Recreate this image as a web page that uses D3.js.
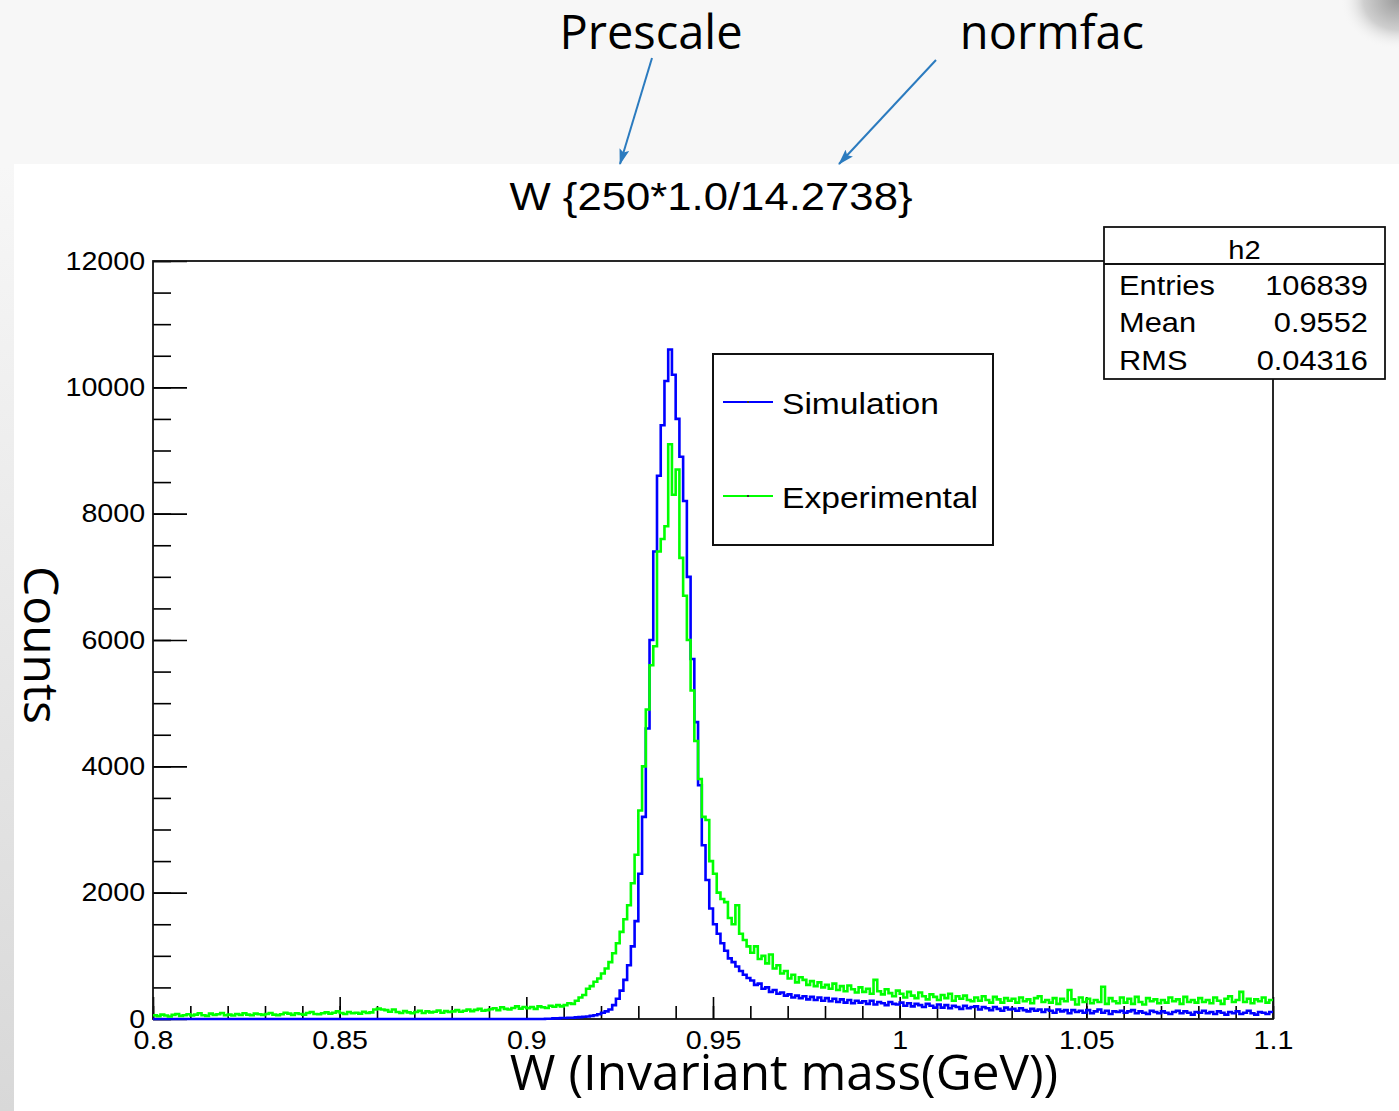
<!DOCTYPE html>
<html><head><meta charset="utf-8">
<script src="https://cdn.jsdelivr.net/npm/d3@7"></script>
<style>body{margin:0;background:#fff;} svg{display:block}</style>
</head><body><svg id="c" width="1399" height="1111"></svg>
<script>
// ---------------- DATA ----------------
const binLow = 0.8, binWidth = 0.001;          // 300 bins, 0.8 .. 1.1 GeV
const simulation = [
  0,0,0,0,0,0,0,0,0,0,
  0,0,0,0,0,0,0,0,0,0,
  0,0,0,0,0,0,0,0,0,0,
  0,0,0,0,0,0,0,0,0,0,
  0,0,0,0,0,0,0,0,0,0,
  0,0,0,0,0,0,0,0,0,0,
  0,0,0,0,0,0,0,0,0,0,
  0,0,0,0,0,0,0,0,0,0,
  0,0,0,0,0,0,0,0,0,0,
  0,0,0,0,0,0,0,0,0,0,
  0,0,0,0,0,5,5,10,10,15,
  15,20,20,25,30,35,40,50,60,75,
  100,120,150,220,320,450,620,850,1150,1550,
  2300,3200,4600,6000,7400,8600,9400,10100,10600,10200,
  9500,8900,8200,7000,5700,4700,3700,2750,2200,1750,
  1500,1350,1200,1080,960,900,830,760,700,650,
  610,540,560,480,500,430,460,400,420,370,
  390,340,370,330,360,310,350,300,340,290,
  330,280,320,270,310,260,300,250,290,260,
  280,240,290,230,270,250,220,270,240,230,
  260,210,250,200,240,220,190,240,210,180,
  230,180,220,170,210,190,160,210,170,190,
  200,150,190,170,140,190,160,130,180,150,
  160,130,170,140,120,160,130,150,110,150,
  130,100,150,120,140,90,140,110,130,100,
  140,90,120,150,100,130,80,120,110,130,
  100,120,140,90,120,100,80,130,110,90,
  120,100,80,110,130,90,120,100,70,110,
  100,130,90,110,80,120,100,70,110,90,
  120,80,100,130,90,70,110,100,80,110
];
const experimental = [
  60,45,70,55,40,65,80,50,60,75,
  55,70,90,60,50,85,65,75,95,60,
  70,55,80,65,90,70,60,85,75,65,
  80,95,70,60,75,100,85,65,90,80,
  70,95,110,80,75,90,105,85,100,120,
  95,80,110,90,100,85,115,95,105,150,
  165,150,140,115,150,110,95,125,105,90,
  110,130,95,120,105,115,135,100,125,110,
  120,140,115,130,150,125,145,160,130,140,
  155,170,140,185,160,150,175,200,165,190,
  170,190,160,200,185,175,210,195,220,200,
  220,250,240,290,340,380,480,520,590,640,
  720,800,900,1040,1200,1380,1580,1800,2150,2600,
  3300,4000,4900,5600,5900,7400,7600,7800,9100,8300,
  8700,7300,6700,6000,5200,4400,3800,3200,3150,2500,
  2300,2000,1900,1850,1600,1500,1800,1350,1250,1150,
  1050,1150,950,1000,880,1020,800,850,720,760,
  640,700,580,660,620,540,600,520,580,500,
  540,480,560,460,520,440,530,470,420,500,
  430,480,400,620,440,390,470,410,360,450,
  400,340,430,370,330,420,360,310,390,350,
  300,380,330,400,290,360,320,370,300,280,
  340,290,360,300,260,350,310,260,330,290,
  320,260,340,280,310,250,330,360,270,300,
  260,330,240,320,280,460,310,230,340,270,
  320,250,300,270,510,240,330,280,250,340,
  260,320,240,350,270,230,330,280,310,250,
  300,260,340,280,310,240,350,270,300,260,
  330,270,300,250,340,290,240,320,360,270,
  300,430,270,320,250,310,280,340,260,300
];
const xDomain = [0.8, 1.1];
const yDomain = [0, 12000];
const xTickValues = [0.8, 0.85, 0.9, 0.95, 1.0, 1.05, 1.1];
const xTickLabels = ["0.8", "0.85", "0.9", "0.95", "1", "1.05", "1.1"];
const xMinorStep = 0.01;
const yTickValues = [0, 2000, 4000, 6000, 8000, 10000, 12000];
const yTickLabels = ["0", "2000", "4000", "6000", "8000", "10000", "12000"];
const yMinorStep = 500;
const legendLabels = ["Simulation", "Experimental"];
const seriesColors = ["#0000ff", "#00ff00"];
const statsTitle = "h2";
const statsNames = ["Entries", "Mean", "RMS"];
const statsValues = ["106839", "0.9552", "0.04316"];
const titleText = "W {250*1.0/14.2738}";
const xAxisTitle = "W (Invariant mass(GeV))";
const yAxisTitle = "Counts";
const notes = ["Prescale", "normfac"];

// ---------------- DRAW ----------------
const svg = d3.select("#c");
const ROOTFONT = "'Liberation Sans', Arial, Helvetica, sans-serif";
const SLIDEFONT = "'Open Sans', 'Noto Sans', sans-serif";
const SX = 1.12; // horizontal stretch of the pasted ROOT picture

const defs = svg.append("defs");
const lg = defs.append("linearGradient").attr("id","leftg").attr("x1",0).attr("y1",0).attr("x2",0).attr("y2",1);
lg.append("stop").attr("offset","0").attr("stop-color","#f7f7f7");
lg.append("stop").attr("offset","1").attr("stop-color","#d8d8d8");
const rg = defs.append("radialGradient").attr("id","cornerg").attr("cx",1).attr("cy",0).attr("r",1);
rg.append("stop").attr("offset","0").attr("stop-color","#9a9a9a");
rg.append("stop").attr("offset","0.6").attr("stop-color","#cfcfcf");
rg.append("stop").attr("offset","1").attr("stop-color","#f7f7f7").attr("stop-opacity",0);

// slide background
svg.append("rect").attr("x",0).attr("y",0).attr("width",1399).attr("height",1111).attr("fill","#ffffff");
svg.append("rect").attr("x",0).attr("y",0).attr("width",1399).attr("height",164).attr("fill","#f7f7f7");
svg.append("rect").attr("x",1340).attr("y",0).attr("width",59).attr("height",50).attr("fill","url(#cornerg)");
svg.append("rect").attr("x",0).attr("y",164).attr("width",14).attr("height",947).attr("fill","url(#leftg)");
svg.append("rect").attr("x",14).attr("y",164).attr("width",1385).attr("height",947).attr("fill","#ffffff");

const x = d3.scaleLinear().domain(xDomain).range([153, 1273]);
const y = d3.scaleLinear().domain(yDomain).range([1019, 261]);

function styleTicks(g, fs){
  g.select(".domain").remove();
  g.selectAll(".tick line").attr("stroke","#000").attr("stroke-width",1.6);
  g.selectAll(".tick text").attr("font-family",ROOTFONT).attr("font-size",fs)
    .attr("fill","#000").attr("transform",`scale(${SX},1)`);
}

// y minor
svg.append("g").attr("transform","translate(153,0)")
  .call(d3.axisLeft(y).tickValues(d3.range(yDomain[0], yDomain[1]+1, yMinorStep)).tickSize(-18).tickFormat(""))
  .call(g=>styleTicks(g,25.6));
// y major
svg.append("g").attr("transform","translate(153,0)")
  .call(d3.axisLeft(y).tickValues(yTickValues).tickSize(-34).tickPadding(7)
        .tickFormat((d,i)=>yTickLabels[i]))
  .call(g=>styleTicks(g,25.6));
// x minor
const xMinor = d3.range(0, Math.round((xDomain[1]-xDomain[0])/xMinorStep)+1).map(i=>xDomain[0]+i*xMinorStep);
svg.append("g").attr("transform","translate(0,1019)")
  .call(d3.axisBottom(x).tickValues(xMinor).tickSize(-13).tickFormat(""))
  .call(g=>styleTicks(g,25.6));
// x major
svg.append("g").attr("transform","translate(0,1019)")
  .call(d3.axisBottom(x).tickValues(xTickValues).tickSize(-22).tickPadding(12)
        .tickFormat((d,i)=>xTickLabels[i]))
  .call(g=>styleTicks(g,25.6));

// frame
svg.append("rect").attr("x",153).attr("y",261).attr("width",1120).attr("height",758)
  .attr("fill","none").attr("stroke","#111").attr("stroke-width",1.8);

// histograms
defs.append("clipPath").attr("id","plotclip").append("rect")
  .attr("x",153).attr("y",255).attr("width",1121).attr("height",766);
function histPath(vals){
  const pts = vals.map((v,i)=>[binLow + i*binWidth, v]);
  pts.push([binLow + vals.length*binWidth, vals[vals.length-1]]);
  return d3.line().x(d=>x(d[0])).y(d=>y(d[1])).curve(d3.curveStepAfter)(pts);
}
const hg = svg.append("g").attr("clip-path","url(#plotclip)");
[simulation, experimental].forEach((vals,k)=>{
  hg.append("path").attr("d",histPath(vals)).attr("fill","none")
    .attr("stroke",seriesColors[k]).attr("stroke-width",2.6).attr("stroke-linejoin","miter");
});

// helper for stretched ROOT text
function rootText(str, tx, ty, fs, anchor){
  return svg.append("text").attr("transform",`translate(${tx},${ty}) scale(${SX},1)`)
    .attr("font-family",ROOTFONT).attr("font-size",fs).attr("text-anchor",anchor||"start")
    .attr("fill","#000").text(str);
}

// title
rootText(titleText, 711, 210, 39, "middle");

// legend
svg.append("rect").attr("x",713).attr("y",354).attr("width",280).attr("height",191)
  .attr("fill","#fff").attr("stroke","#111").attr("stroke-width",2);
const legY = [402, 496];
legendLabels.forEach((lab,k)=>{
  svg.append("line").attr("x1",723).attr("x2",773).attr("y1",legY[k]).attr("y2",legY[k])
    .attr("stroke",seriesColors[k]).attr("stroke-width",2);
  svg.append("rect").attr("x",747).attr("y",legY[k]-1).attr("width",2).attr("height",2).attr("fill","#333");
  rootText(lab, 782, legY[k]+12, 30, "start");
});

// stats box
svg.append("rect").attr("x",1104).attr("y",227).attr("width",281).attr("height",152)
  .attr("fill","#fff").attr("stroke","#111").attr("stroke-width",1.8);
svg.append("line").attr("x1",1104).attr("x2",1385).attr("y1",264).attr("y2",264)
  .attr("stroke","#111").attr("stroke-width",1.8);
rootText(statsTitle, 1244.5, 259, 26, "middle");
const statY = [295, 332, 370];
statsNames.forEach((n,i)=>{
  rootText(n, 1119, statY[i], 27.5, "start");
  rootText(statsValues[i], 1368, statY[i], 27.5, "end");
});

// slide-level annotations
svg.append("text").attr("x",784).attr("y",1090).attr("text-anchor","middle")
  .attr("font-family",SLIDEFONT).attr("font-size",49.5).attr("fill","#000").text(xAxisTitle);
svg.append("text").attr("transform","translate(24,645) rotate(90)").attr("text-anchor","middle")
  .attr("font-family",SLIDEFONT).attr("font-size",48).attr("fill","#000").text(yAxisTitle);
svg.append("text").attr("x",651).attr("y",49).attr("text-anchor","middle")
  .attr("font-family",SLIDEFONT).attr("font-size",47).attr("fill","#000").text(notes[0]);
svg.append("text").attr("x",1052).attr("y",49).attr("text-anchor","middle")
  .attr("font-family",SLIDEFONT).attr("font-size",47).attr("fill","#000").text(notes[1]);

// arrows
defs.append("marker").attr("id","ah").attr("viewBox","0 0 16 10").attr("refX",15).attr("refY",5)
  .attr("markerWidth",16).attr("markerHeight",10).attr("markerUnits","userSpaceOnUse").attr("orient","auto")
  .append("path").attr("d","M0,0 L16,5 L0,10 L3,5 Z").attr("fill","#2b7bbf");
[[652,58,620,164],[936,60,839,164]].forEach(a=>{
  svg.append("line").attr("x1",a[0]).attr("y1",a[1]).attr("x2",a[2]).attr("y2",a[3])
    .attr("stroke","#2b7bbf").attr("stroke-width",2).attr("marker-end","url(#ah)");
});
</script></body></html>
